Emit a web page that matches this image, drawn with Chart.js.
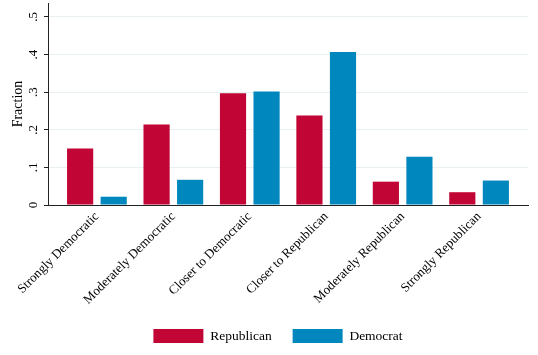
<!DOCTYPE html>
<html>
<head>
<meta charset="utf-8">
<script src="https://cdn.jsdelivr.net/npm/chart.js@4/dist/chart.umd.min.js"></script>
<style>
  html, body { margin: 0; padding: 0; background: #ffffff; }
  #wrap { width: 538px; height: 355px; position: relative; }
</style>
</head>
<body>
<div id="wrap"><canvas id="c" width="538" height="355"></canvas></div>
<script>
const categories = ["Strongly Democratic", "Moderately Democratic", "Closer to Democratic",
                    "Closer to Republican", "Moderately Republican", "Strongly Republican"];
const republican = [0.150, 0.214, 0.297, 0.238, 0.062, 0.034];
const democrat   = [0.022, 0.067, 0.302, 0.407, 0.128, 0.065];
const yTickValues = [0, 0.1, 0.2, 0.3, 0.4, 0.5];
const yTickLabels = ["0", ".1", ".2", ".3", ".4", ".5"];
const seriesNames = ["Republican", "Democrat"];

const RED = "#c10534";
const BLUE = "#0088be";
const SERIF = "'Liberation Serif', 'Times New Roman', serif";

const legendShift = {
  id: "legendShift",
  afterLayout(chart) {
    const lg = chart.legend;
    if (!lg) return;
    const dx = 14, dy = -9;
    lg.left += dx; lg.right += dx;
    lg.top += dy; lg.bottom += dy;
  }
};

const toPoints = arr => arr.map((v, i) => ({ x: i, y: v }));

new Chart(document.getElementById("c"), {
  type: "bar",
  data: {
    datasets: [
      { label: seriesNames[0], data: toPoints(republican), backgroundColor: RED, borderWidth: 0 },
      { label: seriesNames[1], data: toPoints(democrat), backgroundColor: BLUE, borderWidth: 0 }
    ]
  },
  options: {
    responsive: false,
    animation: false,
    devicePixelRatio: 1,
    categoryPercentage: 0.878,
    barPercentage: 0.78,
    layout: { padding: { top: 3, right: 10, left: 0, bottom: -7 } },
    plugins: {
      tooltip: { enabled: false },
      legend: {
        position: "bottom",
        labels: {
          boxWidth: 50,
          boxHeight: 14,
          padding: 21,
          color: "#000",
          font: { family: SERIF, size: 13.5 }
        }
      }
    },
    scales: {
      x: {
        type: "linear",
        min: -0.64,
        max: 5.64,
        offset: false,
        afterBuildTicks: s => { s.ticks = categories.map((c, i) => ({ value: i })); },
        afterFit: s => { s.height = 112; s.paddingLeft = 0; s.paddingRight = 0; },
        grid: { display: false },
        border: { display: true, color: "#222", width: 1 },
        ticks: {
          autoSkip: false,
          minRotation: 45,
          maxRotation: 45,
          padding: -4,
          color: "#000",
          font: { family: SERIF, size: 13 },
          callback: v => categories[v]
        }
      },
      y: {
        min: 0,
        max: 0.537,
        afterBuildTicks: s => { s.ticks = yTickValues.map(v => ({ value: v })); },
        afterFit: s => { s.width = 48; s.paddingTop = 0; s.paddingBottom = 0; },
        grid: {
          color: ctx => (ctx.tick && ctx.tick.value === 0) ? "rgba(0,0,0,0)" : "#e8f0f2",
          lineWidth: 1,
          tickColor: "#222",
          tickLength: 4,
          drawTicks: true
        },
        border: { display: true, color: "#222", width: 1 },
        ticks: {
          minRotation: 90,
          maxRotation: 90,
          crossAlign: "center",
          padding: 6,
          color: "#000",
          font: { family: SERIF, size: 13 },
          callback: (v) => { const i = yTickValues.indexOf(v); return i >= 0 ? yTickLabels[i] : ""; }
        },
        title: {
          display: true,
          text: "Fraction",
          color: "#000",
          font: { family: SERIF, size: 14 },
          padding: { top: 10, bottom: 0 }
        }
      }
    }
  },
  plugins: [legendShift]
});
</script>
</body>
</html>
